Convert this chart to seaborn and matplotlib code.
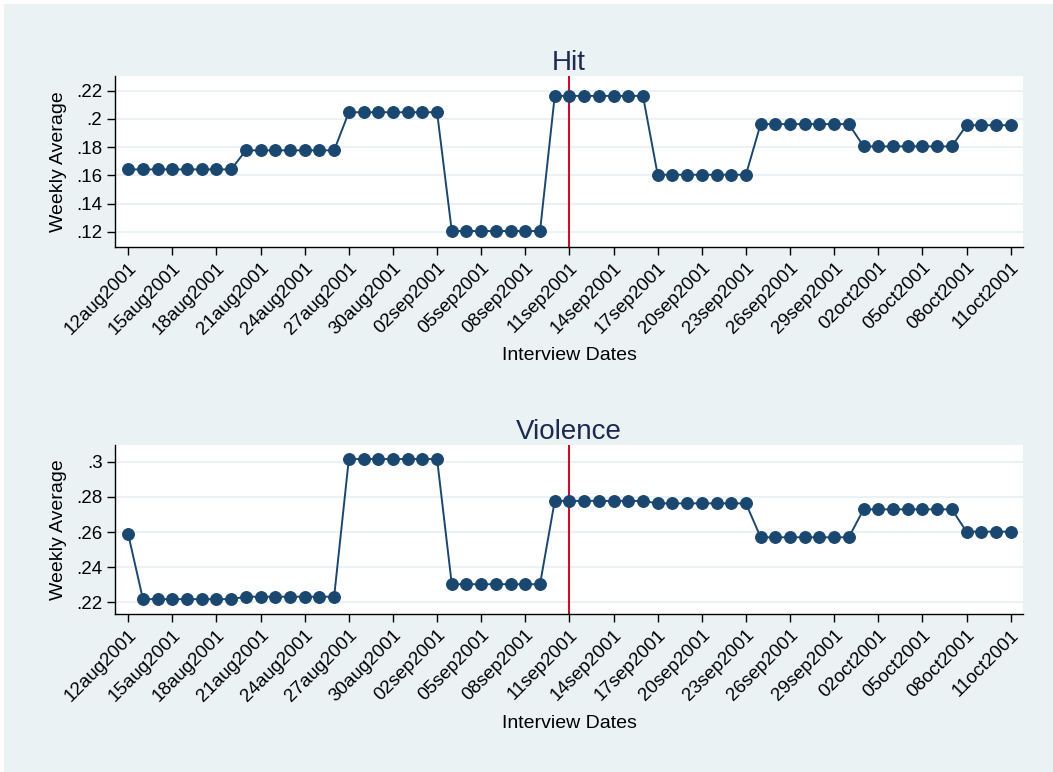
import pandas as pd
import seaborn as sns
import matplotlib
matplotlib.use("Agg")
import matplotlib.pyplot as plt
import matplotlib.dates as mdates
from matplotlib.patches import Rectangle

# daily interview dates
dates = pd.date_range("2001-08-12", "2001-10-11", freq="D")

# weekly averages, one value per run of days
hit_levels = [0.1642, 0.1777, 0.2047, 0.1205, 0.2163, 0.1604, 0.1963, 0.1805, 0.1955]
hit_runs = [8, 7, 7, 7, 7, 7, 7, 7, 4]

violence_levels = [0.2587, 0.2218, 0.2232, 0.3015, 0.2303, 0.2777, 0.2763, 0.2570, 0.2729, 0.2602]
violence_runs = [1, 7, 7, 7, 7, 7, 7, 7, 7, 4]

hit_ticks = [.12, .14, .16, .18, .2, .22]
violence_ticks = [.22, .24, .26, .28, .3]

event_date = pd.Timestamp("2001-09-11")

navy = "#1A476F"
bg = "#EAF2F3"


def expand(levels, runs):
    out = []
    for v, n in zip(levels, runs):
        out += [v] * n
    return out


hit_df = pd.DataFrame({"date": dates, "avg": expand(hit_levels, hit_runs)})
violence_df = pd.DataFrame({"date": dates, "avg": expand(violence_levels, violence_runs)})


def fmt_ticks(v, pos=None):
    s = "%g" % v
    return s[1:] if s.startswith("0.") else s


def date_label(x, pos=None):
    return mdates.num2date(x).strftime("%d%b%Y").lower()


plt.rcParams["font.family"] = ["Liberation Sans", "DejaVu Sans"]

fig = plt.figure(figsize=(10.53, 7.72), dpi=100, facecolor="white")
fig.patches.append(Rectangle((4 / 1053, 0), 1, 1 - 4 / 772, transform=fig.transFigure,
                             facecolor=bg, edgecolor="none", zorder=-10))

W, H = 1053.0, 772.0
panels = [
    (hit_df, "Hit", hit_ticks, (0.1094, 0.2304), (76, 246.7)),
    (violence_df, "Violence", violence_ticks, (0.2132, 0.3095), (445, 614.3)),
]

x0 = dates[0] - pd.Timedelta(days=0.9)
x1 = dates[-1] + pd.Timedelta(days=0.84)

for df, title, yt, ylim, (top, bot) in panels:
    ax = fig.add_axes([115 / W, 1 - bot / H, (1023 - 115) / W, (bot - top) / H])
    ax.set_facecolor("white")
    for y in yt:
        ax.axhline(y, color=bg, lw=1.5, zorder=0)
    ax.axvline(event_date, color="#C8102E", lw=1.5, zorder=1)
    sns.lineplot(data=df, x="date", y="avg", ax=ax, color=navy, lw=1.4,
                 marker="o", markersize=8.5, markeredgecolor=navy, zorder=3)
    ax.set_xlim(x0, x1)
    ax.set_ylim(*ylim)
    ax.set_yticks(yt)
    ax.yaxis.set_major_formatter(plt.FuncFormatter(fmt_ticks))
    ax.set_xticks(dates[::3])
    ax.xaxis.set_major_formatter(plt.FuncFormatter(date_label))
    plt.setp(ax.get_xticklabels(), rotation=45, ha="right", rotation_mode="anchor")
    ax.tick_params(axis="both", labelsize=13.5, length=6, width=1, color="black", pad=3)
    for s in ["top", "right"]:
        ax.spines[s].set_visible(False)
    for s in ["left", "bottom"]:
        ax.spines[s].set_color("black")
        ax.spines[s].set_linewidth(1)
    ax.set_xlabel("Interview Dates", fontsize=14, labelpad=7)
    ax.set_ylabel("Weekly Average", fontsize=14, labelpad=7)
    ax.set_title(title, fontsize=20, color="#1C2951", pad=4)

fig.savefig("out.png", dpi=100, facecolor=fig.get_facecolor())
